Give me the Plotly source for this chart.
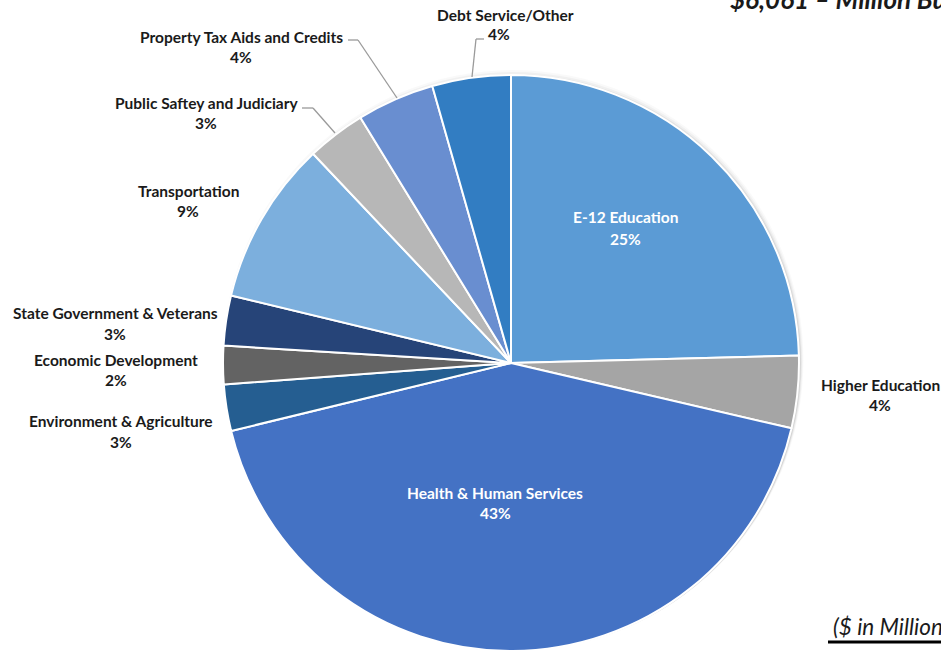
import plotly.graph_objects as go

# Budget areas, clockwise from 12 o'clock ($ in millions)
categories = [
    "E-12 Education",
    "Higher Education",
    "Health & Human Services",
    "Environment & Agriculture",
    "Economic Development",
    "State Government & Veterans",
    "Transportation",
    "Public Saftey and Judiciary",
    "Property Tax Aids and Credits",
    "Debt Service/Other",
]
amounts = [1490, 246, 2580, 158, 130, 170, 556, 200, 264, 267]
colors = ["#5B9BD5", "#A5A5A5", "#4472C4", "#255E91", "#636363",
          "#264478", "#7CAFDD", "#B7B7B7", "#698ED0", "#327DC2"]

title_text = "$6,061 – Million Budget"
units_text = "($ in Millions)"

W, H = 941, 651
CX, CY, R = 511, 363, 288


def px(x, y):
    """Pixel position -> paper coordinates."""
    return x / W, 1 - y / H


# label centres (name line, percent line) in pixels
label_pos = [
    ((625, 217), (625, 239)),
    ((880, 385), (880, 405)),
    ((495, 493), (495, 513)),
    ((121, 421), (121, 442)),
    ((116, 360), (116, 380)),
    ((115, 313), (115, 334)),
    ((188, 191), (188, 211)),
    ((206, 103), (206, 123)),
    ((241, 37), (241, 57)),
    ((505, 15), (499, 34)),
]
inside = {0, 2}

# leader lines for the crowded top slices
leaders = [
    [(484, 39), (476, 39), (472, 77)],
    [(348, 40), (358, 40), (397, 98)],
    [(302, 108), (313, 108), (335, 133)],
]

total = sum(amounts)
pcts = [round(100 * a / total) for a in amounts]

fig = go.Figure()

# soft shadow behind the pie
for grow, alpha in [(7, 0.025), (5, 0.035), (3, 0.05), (1.5, 0.07)]:
    r = R + grow
    ox, oy = CX + 2, CY + 2
    x0, y1p = px(ox - r, oy - r)
    x1, y0p = px(ox + r, oy + r)
    fig.add_trace(go.Pie(
        values=[1], labels=["shadow"], sort=False,
        marker=dict(colors=[f"rgba(0,0,0,{alpha})"], line=dict(width=0)),
        textinfo="none", hoverinfo="skip", showlegend=False,
        domain=dict(x=[x0, x1], y=[max(y0p, 0), y1p]),
    ))

x0, y1p = px(CX - R, CY - R)
x1, y0p = px(CX + R, CY + R)
fig.add_trace(go.Pie(
    labels=categories,
    values=amounts,
    sort=False,
    direction="clockwise",
    rotation=0,
    marker=dict(colors=colors, line=dict(color="white", width=2)),
    textinfo="none",
    hovertemplate="%{label}: $%{value}M (%{percent})<extra></extra>",
    showlegend=False,
    domain=dict(x=[x0, x1], y=[max(y0p, 0), y1p]),
))

annotations = []
font_family = "Lato, Carlito, Calibri, sans-serif"
for i, (name, pct) in enumerate(zip(categories, pcts)):
    col = "white" if i in inside else "#1a1a1a"
    (nx, ny), (qx, qy) = label_pos[i]
    for text, (x, y) in [(name, (nx, ny)), (f"{pct}%", (qx, qy))]:
        ax_, ay_ = px(x, y)
        annotations.append(dict(
            x=ax_, y=ay_, xref="paper", yref="paper",
            text=f"<b>{text}</b>", showarrow=False,
            xanchor="center", yanchor="middle",
            font=dict(family=font_family, size=15.5, color=col),
        ))

tx, ty = px(728, -1)
annotations.append(dict(
    x=tx, y=ty, xref="paper", yref="paper",
    text=f"<b><i>{title_text}</i></b>", showarrow=False,
    xanchor="left", yanchor="middle",
    font=dict(family=font_family, size=26, color="#1a1a1a"),
))
ux, uy = px(831, 626)
annotations.append(dict(
    x=ux, y=uy, xref="paper", yref="paper",
    text=f"<i>{units_text}</i>", showarrow=False,
    xanchor="left", yanchor="middle",
    font=dict(family=font_family, size=22.5, color="#1a1a1a"),
))

shapes = []
for pts in leaders:
    for (xa, ya), (xb, yb) in zip(pts[:-1], pts[1:]):
        pa, pb = px(xa, ya), px(xb, yb)
        shapes.append(dict(type="line", xref="paper", yref="paper",
                           x0=pa[0], y0=pa[1], x1=pb[0], y1=pb[1],
                           line=dict(color="#9a9a9a", width=1.3)))
la, lb = px(828, 642), px(945, 642)
shapes.append(dict(type="line", xref="paper", yref="paper",
                   x0=la[0], y0=la[1], x1=lb[0], y1=lb[1],
                   line=dict(color="black", width=3)))

fig.update_layout(
    width=W, height=H,
    margin=dict(l=0, r=0, t=0, b=0),
    paper_bgcolor="white", plot_bgcolor="white",
    annotations=annotations,
    shapes=shapes,
)

fig.write_html("out.html")
